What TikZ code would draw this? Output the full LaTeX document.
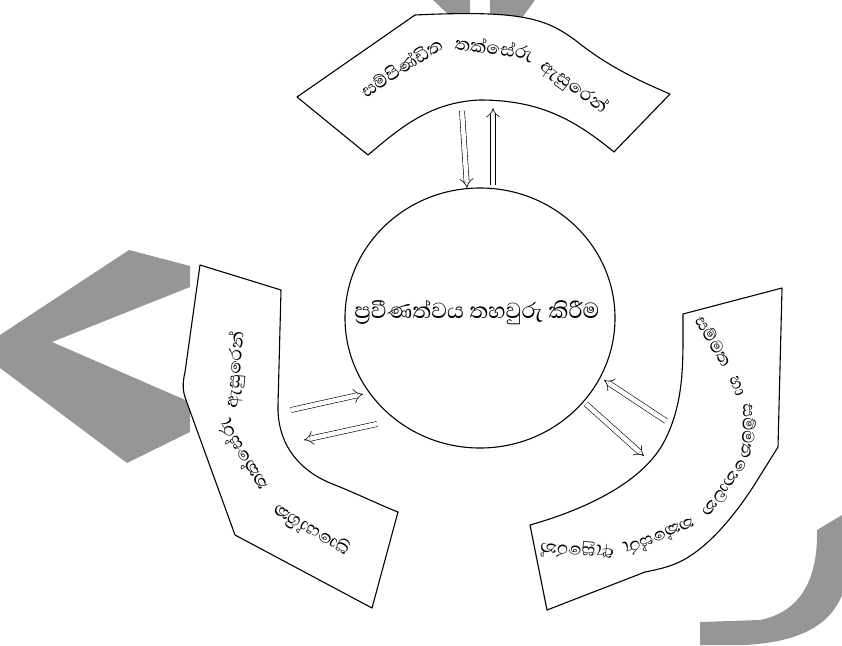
\documentclass[tikz,border=0pt]{standalone}
\usepackage{fontspec}
\newfontfamily\sinfont[Script=Sinhala]{Abhaya Libre}
\usetikzlibrary{arrows.meta,shapes.geometric}
\definecolor{wmgray}{RGB}{150,150,150}
\begin{document}
\begin{tikzpicture}[x=1pt,y=-1pt,
  band/.style={draw=black, fill=white, line width=1.1pt, line join=round},
  wm/.style={fill=wmgray, draw=none},
  dbl/.style={double distance=4.5pt, line width=0.6pt, -{Implies[length=10pt,width=14pt]}},
  btext/.style={font=\sinfont\fontsize{23}{23}\selectfont, inner sep=0pt},
  rtext/.style={font=\sinfont\fontsize{22}{22}\selectfont, inner sep=0pt},
  ctext/.style={font=\sinfont\fontsize{28}{28}\selectfont, inner sep=0pt}]
\useasboundingbox (0,0) rectangle (842,645);
% watermark pieces
\fill[wm] (129,250) -- (190,266) -- (190,287) -- (52,342) -- (190,402) -- (190,432) -- (127,463) -- (0,368) -- (0,335) -- cycle;
\fill[wm] (433,0) -- (470,0) -- (470,18) -- (452,18) -- cycle;
\fill[wm] (490,0) -- (535,0) -- (522,18) -- (490,18) -- cycle;
\fill[wm] (842,515) -- (842,595) .. controls (830,625) and (800,642) .. (745,645) -- (700,645) -- (700,622) -- (760,620) .. controls (800,612) and (818,580) .. (817,530) -- cycle;
% bands
\path[band] (297,97) -- (415,15) .. controls (520,10) and (545,18) .. (575,40) .. controls (600,60) and (625,75) .. (670,94) -- (614,152) .. controls (575,120) and (540,100) .. (480,100) .. controls (430,102) and (400,128) .. (368,155) -- cycle;
\path[band] (200,265) -- (185,372) .. controls (182,385) and (183,392) .. (186,400) -- (235,535) -- (372,608) -- (398,512) .. controls (380,505) and (360,495) .. (335,485) .. controls (295,470) and (277,440) .. (278,405) -- (281,290) -- cycle;
\path[band] (683,314) -- (782,288) -- (778,447) -- (753,487) .. controls (738,510) and (715,540) .. (690,556) .. controls (675,566) and (660,569) .. (645,572) -- (547,610) -- (530,525) .. controls (590,508) and (645,480) .. (665,440) .. controls (680,410) and (683,380) .. (683,340) -- cycle;
% centre
\node[ellipse, draw, fill=white, line width=1.1pt, minimum width=270pt, minimum height=260pt, inner sep=0pt] (c) at (480,318) {};
\node[ctext] (ct) at (477,313) {ප්‍රවීණත්වය තහවුරු කිරීම};
% arrow end points
\coordinate (t1a) at (462,111); \coordinate (t1b) at (467,188);
\coordinate (t2a) at (493,185); \coordinate (t2b) at (493,108);
\coordinate (l1a) at (291,410); \coordinate (l1b) at (363,394);
\coordinate (l2a) at (377,424); \coordinate (l2b) at (304,440);
\coordinate (r1a) at (666,421); \coordinate (r1b) at (604,380);
\coordinate (r2a) at (586,404); \coordinate (r2b) at (644,456);
\draw[dbl] (t1a) -- (t1b);
\draw[dbl] (t2a) -- (t2b);
\draw[dbl] (l1a) -- (l1b);
\draw[dbl] (l2a) -- (l2b);
\draw[dbl] (r1a) -- (r1b);
\draw[dbl] (r2a) -- (r2b);
% top band text
\node[btext, rotate=33] (tw1) at (401,67) {සම්පිණ්ඩිත};
\node[btext, rotate=-8] (tw2) at (494,49) {තක්සේරු};
\node[btext, rotate=-36] (tw3) at (574,87) {ඇසුරෙන්};
% left band text
\node[btext, rotate=149] (lw1) at (311,530) {ප්‍රායෝගික};
\node[btext, rotate=122] (lw2) at (243,455) {තක්සේරු};
\node[btext, rotate=85] (lw3) at (236,370) {ඇසුරෙන්};
% right band text
\node[rtext, rotate=-59] (rw1) at (714,341) {සම්මත};
\node[rtext, rotate=-69] (rw2) at (737,386) {හා};
\node[rtext, rotate=-92] (rw3) at (749,431) {සම්මත};
\node[rtext, rotate=-126] (rw4) at (726,489) {නොවන};
\node[rtext, rotate=-157] (rw5) at (659,537) {තක්සේරු};
\node[rtext, rotate=175] (rw6) at (577,551) {ඇසුරෙන්};
\end{tikzpicture}
\end{document}
